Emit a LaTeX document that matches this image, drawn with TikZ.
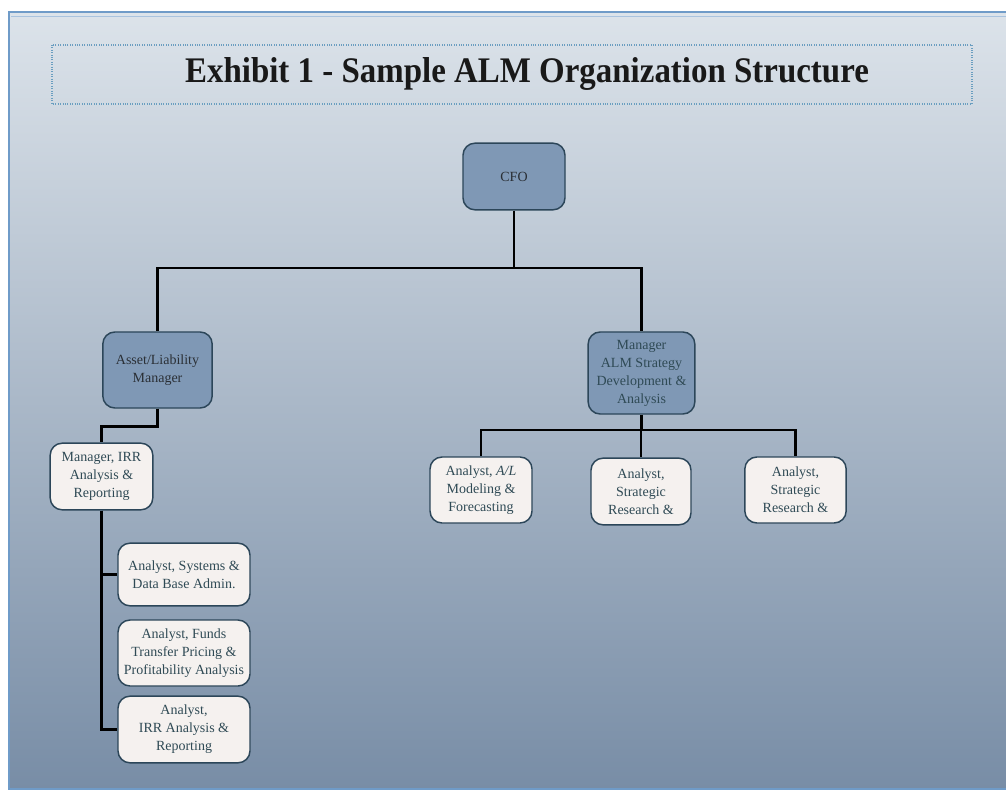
\documentclass[tikz,border=0pt]{standalone}
\usepackage{fontspec}
\setmainfont{Liberation Serif}
\usepackage{tikz}
\usetikzlibrary{positioning,calc}
\definecolor{BgTop}{HTML}{DCE3EA}
\definecolor{BgBot}{HTML}{788DA6}
\definecolor{Frame}{HTML}{6F9BC8}
\definecolor{Dotted}{HTML}{6A9EC0}
\definecolor{HeadFill}{HTML}{7F98B5}
\definecolor{StaffFill}{HTML}{F5F1EF}
\definecolor{Edge}{HTML}{2C4659}
\definecolor{HeadText}{HTML}{2A2F35}
\definecolor{StaffText}{HTML}{2F4A55}

\begin{document}
\begin{tikzpicture}[
  x=0.75pt,y=-0.75pt,
  head/.style={rounded corners=9pt,draw=Edge,fill=HeadFill,line width=1.1pt,align=center,
    font=\fontsize{10.5}{13.5}\selectfont,text=HeadText,inner sep=1pt},
  staff/.style={rounded corners=9pt,draw=Edge,fill=StaffFill,line width=1.1pt,align=center,
    font=\fontsize{10.5}{13.5}\selectfont,text=StaffText,inner sep=1pt},
  link/.style={line width=2.2pt,draw=black}
]
\useasboundingbox (0,0) rectangle (1006,791);
\shade[top color=BgTop,bottom color=BgBot,draw=Frame,line width=0.8pt] (9,12) rectangle (1012,789);
\draw[Frame!60,line width=0.5pt] (11,16) -- (1012,16);
\draw[Dotted,densely dotted,line width=0.8pt] (52,45) rectangle (972,104);
\node[font=\fontsize{27}{30}\selectfont\bfseries,text=black!90] (title) at (527,74)
  {\scalebox{0.915}[1]{Exhibit 1 - Sample ALM Organization Structure}};

% top levels
\node[head,minimum width=76.5pt,minimum height=50pt] (cfo) at (514,176.5) {CFO};
\node[head,minimum width=82pt,minimum height=57pt] (alm) at (157.5,370) {Asset/Liability\\Manager};
\node[head,minimum width=80pt,minimum height=61.5pt,text=StaffText] (strat) at (641.5,373)
  {Manager\\ALM Strategy\\Development \&\\Analysis};

% left branch
\node[staff,minimum width=77pt,minimum height=50pt] (irr) at (101.5,476.5) {Manager, IRR\\Analysis \&\\Reporting};
\node[staff,minimum width=99pt,minimum height=47pt] (sys) at (184,574.5) {Analyst, Systems \&\\Data Base Admin.};
\node[staff,minimum width=99pt,minimum height=49.5pt] (ftp) at (184,653) {Analyst, Funds\\Transfer Pricing \&\\Profitability Analysis};
\node[staff,minimum width=99pt,minimum height=50pt] (rep) at (184,729.5) {Analyst,\\IRR Analysis \&\\Reporting};

% right branch
\node[staff,minimum width=76.5pt,minimum height=49.5pt] (model) at (481,490) {Analyst, \textit{A/L}\\Modeling \&\\Forecasting};
\node[staff,minimum width=75pt,minimum height=50pt] (res1) at (641,491.5) {Analyst,\\Strategic\\Research \&};
\node[staff,minimum width=76pt,minimum height=49.5pt] (res2) at (795.5,490) {Analyst,\\Strategic\\Research \&};

\coordinate (bus1) at (514,268);
\coordinate (bus2) at (641.5,430);
\draw[link] (cfo.south) -- (bus1);
\draw[link] (bus1) -| (alm);
\draw[link] (bus1) -| (strat);
\draw[link] (alm.south) -- ++(0,18) -| (irr);
\draw[link] (irr.south) |- (sys.west);
\draw[link] (irr.south) |- (rep.west);
\draw[link] (strat.south) -- (bus2);
\draw[link] (bus2) -| (model);
\draw[link] (bus2) -| (res1);
\draw[link] (bus2) -| (res2);
\end{tikzpicture}
\end{document}
